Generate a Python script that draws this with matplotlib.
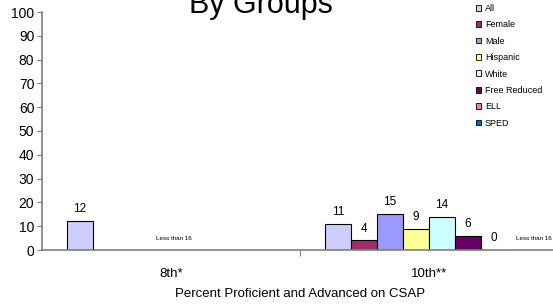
import numpy as np
import matplotlib.pyplot as plt
from matplotlib.patches import Patch

plt.rcParams['font.family'] = ['Liberation Sans', 'DejaVu Sans']

categories = ["8th*", "10th**"]
groups = ["All", "Female", "Male", "Hispanic", "White", "Free Reduced", "ELL", "SPED"]
colors = ["#CCCCFF", "#993366", "#9999FF", "#FFFF99", "#CCFFFF", "#660066", "#FF8080", "#0066CC"]
# None = not reported ("Less than 16")
values = {
    "All": [12, 11],
    "Female": [None, 4],
    "Male": [None, 15],
    "Hispanic": [None, 9],
    "White": [None, 14],
    "Free Reduced": [None, 6],
    "ELL": [None, 0],
    "SPED": [None, None],
}
note_text = "Less than 16"
note_x = [0.012, 1.407]
note_y = [5, 5]

fig = plt.figure(figsize=(5.53, 3.06), dpi=100)
ax = fig.add_axes([42 / 553, 1 - 250 / 306, (558 - 42) / 553, 238 / 306])

x = np.arange(len(categories))
bw = 0.806 / len(groups)
for i, (g, c) in enumerate(zip(groups, colors)):
    off = (i - (len(groups) - 1) / 2) * bw
    for j, v in enumerate(values[g]):
        if v is None:
            continue
        ax.bar(x[j] + off, v, bw, color=c, edgecolor="black", linewidth=0.8)
        ax.text(x[j] + off, v + 2.5, str(v), ha="center", va="bottom", fontsize=8.5)

for nx, ny in zip(note_x, note_y):
    ax.text(nx, ny, note_text, ha="center", va="center", fontsize=4.5)

ax.set_xlim(-0.5, 1.5)
ax.set_ylim(0, 100)
ax.set_yticks(range(0, 101, 10))
ax.tick_params(axis="y", labelsize=10, length=3.5, color="#808080", pad=2)
ax.set_xticks([0.5, 1.5])
ax.set_xticks(x, minor=True)
ax.set_xticklabels([])
ax.set_xticklabels(categories, minor=True, fontsize=9.5)
ax.tick_params(axis="x", which="major", length=4, color="#808080")
ax.tick_params(axis="x", which="minor", length=0, pad=13)
ax.set_xlabel("Percent Proficient and Advanced on CSAP", fontsize=9.5, labelpad=6)
for s in ["top", "right"]:
    ax.spines[s].set_visible(False)
for s in ["left", "bottom"]:
    ax.spines[s].set_color("#808080")
    ax.spines[s].set_linewidth(1.2)

fig.text(261 / 553, 1 - 12.5 / 306, "By Groups", ha="center", va="baseline", fontsize=22)

handles = [Patch(facecolor=c, edgecolor="black", linewidth=0.6) for c in colors]
fig.legend(handles, groups, loc="upper left", bbox_to_anchor=(475 / 553, 1 - 3 / 306),
           fontsize=6.5, frameon=False, handlelength=0.6, handleheight=0.6,
           handletextpad=0.4, labelspacing=0.82, borderaxespad=0, borderpad=0.1)

fig.savefig("out.png", dpi=100)
